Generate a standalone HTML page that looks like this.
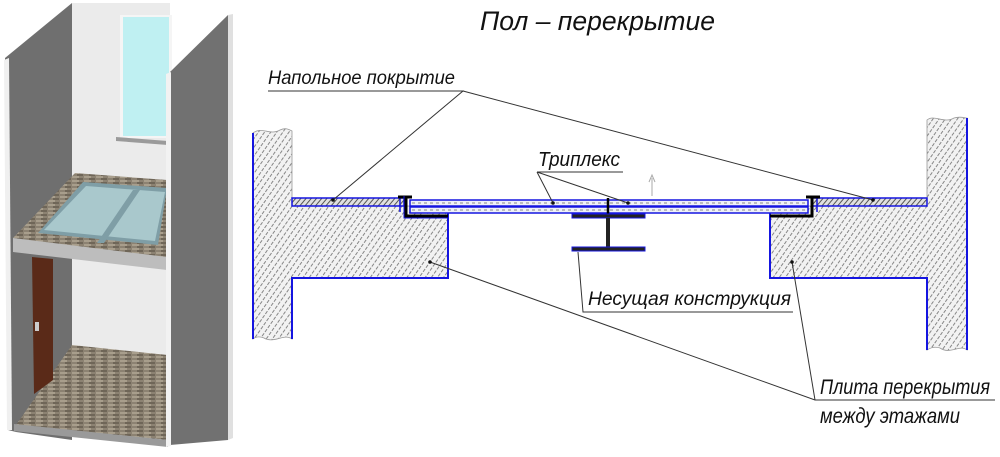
<!DOCTYPE html>
<html><head><meta charset="utf-8"><style>
html,body{margin:0;padding:0;background:#fff;width:1000px;height:457px;overflow:hidden}
svg{display:block}
text{font-family:"Liberation Sans","DejaVu Sans",sans-serif;font-style:italic;fill:#111}
</style></head><body>
<svg width="1000" height="457" viewBox="0 0 1000 457" xmlns="http://www.w3.org/2000/svg">
<defs>
<pattern id="h" width="5" height="5" patternUnits="userSpaceOnUse" patternTransform="rotate(-55)">
<rect width="5" height="5" fill="#f2f2f2"/>
<line x1="0" y1="2.5" x2="3.5" y2="2.5" stroke="#7a7a7a" stroke-width="0.9"/>
</pattern>
<pattern id="hd" width="4" height="4" patternUnits="userSpaceOnUse" patternTransform="rotate(-50)">
<rect width="4" height="4" fill="#e0e0e0"/>
<line x1="0" y1="2" x2="4" y2="2" stroke="#555" stroke-width="1"/>
</pattern>
<pattern id="tile" width="12" height="4" patternUnits="userSpaceOnUse">
<rect width="12" height="4" fill="#8c8272"/>
<rect x="0" y="0" width="7" height="2" fill="#a89e8c"/>
<rect x="5" y="2" width="6" height="2" fill="#6f6658"/>
</pattern>
</defs>

<!-- 3D room -->
<polygon points="72,3 170,3 170,355 72,345" fill="#ebebeb"/>
<polygon points="5,58 72,3 72,440 16,432 8,430" fill="#6f6f6f"/>
<polygon points="4,60 9,58 12,430 7,430" fill="#f0f0f0"/>
<polygon points="120,15 172,15 172,138 120,138" fill="#f5f5f5"/>
<polygon points="123,17 169,17 169,136 123,136" fill="#bff0f2"/>
<polygon points="116,137 168,141 168,145 116,141" fill="#9a9a9a"/>
<polygon points="72,345 168,355 168,440 16,425" fill="url(#tile)"/>
<polygon points="14,424 168,440 168,447 14,431" fill="#9a9a9a"/>
<polygon points="32,257 53,259 53,380 34,394" fill="#5a2a18"/>
<rect x="35" y="322" width="4" height="9" fill="#ccc"/>
<polygon points="13,238 75,173 167,180 167,258" fill="url(#tile)"/>
<polygon points="38,233 83,182 167,188 158,245" fill="#7f9ea6"/>
<polygon points="44,230 86,186 165,192 155,241" fill="#a9c8cc"/>
<polygon points="133,190 140,190 104,243 97,243" fill="#7f9ea6"/>
<polygon points="13,238 167,257 167,270 13,252" fill="#bdbdbd"/>
<polygon points="170,72 228,15 228,440 170,445" fill="#717171"/>
<polygon points="166,74 171,72 171,446 166,447" fill="#f2f2f2"/>
<polygon points="228,15 233,14 233,438 228,440" fill="#e0e0e0"/>

<!-- title -->
<text x="480" y="30" font-size="27" textLength="235" lengthAdjust="spacingAndGlyphs">Пол – перекрытие</text>

<!-- left concrete -->
<path d="M253,133 C262,126 270,136 280,130 C286,127 290,130 292,131 L292,206 L448,206 L448,278 L292,278 L292,339 C284,333 274,344 264,338 C259,336 255,337 253,339 Z" fill="url(#h)" stroke="#999" stroke-width="0.8"/>
<path d="M253,133 L253,339 M448,212 L448,278 L292,278 L292,339" stroke="#1515e0" stroke-width="2" fill="none"/>
<!-- right concrete -->
<path d="M927,120 C934,114 944,124 954,118 C960,116 965,118 967,118 L967,350 C960,344 950,355 940,348 C934,346 930,348 927,350 L927,278 L770,278 L770,206 L927,206 Z" fill="url(#h)" stroke="#999" stroke-width="0.8"/>
<path d="M967,118 L967,350 M770,212 L770,278 L927,278 L927,350" stroke="#1515e0" stroke-width="2" fill="none"/>

<!-- floor covering -->
<rect x="292" y="198" width="112" height="8" fill="url(#hd)" stroke="#1515e0" stroke-width="1.5"/>
<rect x="812" y="198" width="115" height="8" fill="url(#hd)" stroke="#1515e0" stroke-width="1.5"/>
<line x1="400" y1="196" x2="400" y2="212" stroke="#1515e0" stroke-width="1.5"/>
<line x1="817" y1="196" x2="817" y2="212" stroke="#1515e0" stroke-width="1.5"/>

<!-- triplex -->
<rect x="410" y="200" width="398" height="6" fill="#eef0f8" stroke="#1515e0" stroke-width="1.5"/>
<rect x="410" y="207" width="398" height="6" fill="#eef0f8" stroke="#1515e0" stroke-width="1.5"/>
<line x1="412" y1="203" x2="806" y2="203" stroke="#888" stroke-width="1" stroke-dasharray="3,3"/>
<line x1="412" y1="210" x2="806" y2="210" stroke="#888" stroke-width="1" stroke-dasharray="3,3"/>
<path d="M406,197 L406,216 L448,216 M398,197 L412,197" stroke="#000" stroke-width="3" fill="none"/>
<path d="M812,197 L812,216 L770,216 M806,197 L820,197" stroke="#000" stroke-width="3" fill="none"/>
<path d="M404,196 L404,218 L449,218" stroke="#1515e0" stroke-width="1" fill="none"/>
<line x1="608" y1="198" x2="608" y2="216" stroke="#000" stroke-width="2.5"/>

<!-- I-beam -->
<rect x="572" y="214" width="73" height="4" fill="#222" stroke="#1515e0" stroke-width="1"/>
<rect x="606" y="218" width="4" height="29" fill="#222"/>
<rect x="572" y="247" width="73" height="4" fill="#222" stroke="#1515e0" stroke-width="1"/>
<path d="M652,196 L652,178 M649,182 L652,175 L655,182" stroke="#aaa" stroke-width="1" fill="none"/>

<!-- labels & leaders -->
<g stroke="#333" stroke-width="1" fill="none">
<path d="M268,91 L463,91 L333,200"/>
<path d="M463,91 L873,200"/>
<path d="M537,172 L623,172 M537,172 L553,203 M537,172 L628,203"/>
<path d="M578,252 L583,312 L793,312"/>
<path d="M430,262 L815,400 L995,400"/>
<path d="M792,262 L815,400"/>
</g>
<g fill="#111">
<circle cx="333" cy="200" r="1.8"/><circle cx="873" cy="200" r="1.8"/>
<circle cx="553" cy="203" r="1.8"/><circle cx="628" cy="203" r="1.8"/>
<circle cx="430" cy="262" r="1.8"/><circle cx="792" cy="262" r="1.8"/>
</g>
<text x="268" y="84" font-size="19" textLength="187" lengthAdjust="spacingAndGlyphs">Напольное покрытие</text>
<text x="538" y="166" font-size="20" textLength="82" lengthAdjust="spacingAndGlyphs">Триплекс</text>
<text x="588" y="305" font-size="19" textLength="203" lengthAdjust="spacingAndGlyphs">Несущая конструкция</text>
<text x="820" y="394" font-size="21" textLength="170" lengthAdjust="spacingAndGlyphs">Плита перекрытия</text>
<text x="820" y="423" font-size="21" textLength="140" lengthAdjust="spacingAndGlyphs">между этажами</text>
</svg>
</body></html>
